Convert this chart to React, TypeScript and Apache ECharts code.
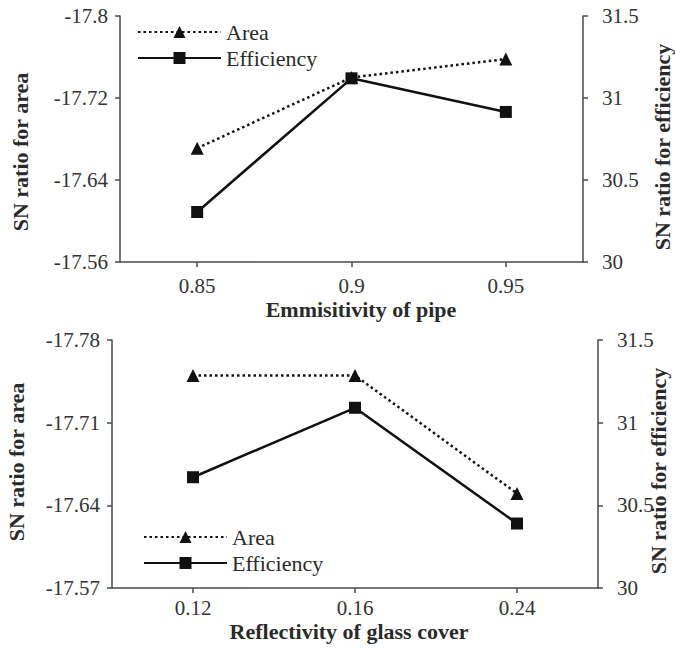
import React, { useEffect, useRef } from "react";
import * as echarts from "echarts";

const topCategories = ["0.85", "0.9", "0.95"];
const topArea = [-17.671, -17.74, -17.758];
const topEfficiency = [30.305, 31.12, 30.915];
const topAreaTicks = [-17.8, -17.72, -17.64, -17.56];

const bottomCategories = ["0.12", "0.16", "0.24"];
const bottomArea = [-17.75, -17.75, -17.65];
const bottomEfficiency = [30.67, 31.09, 30.39];
const bottomAreaTicks = [-17.78, -17.71, -17.64, -17.57];

const FONT = "'Liberation Serif', 'Times New Roman', 'DejaVu Serif', serif";
const AXIS_COLOR = "#4a4a4a";
const TEXT_COLOR = "#2a2a2a";
const LINE_COLOR = "#111";

export default function App() {
  const ref = useRef<HTMLDivElement>(null);
  useEffect(() => {
    if (!ref.current) return;
    const chart = echarts.init(ref.current, undefined, { renderer: "svg" });
    const axisLine = { show: true, lineStyle: { color: AXIS_COLOR, width: 1.5 } };
    const axisTick = { show: true, length: 5, lineStyle: { color: AXIS_COLOR, width: 1.5 } };
    const labelStyle = { fontFamily: FONT, fontSize: 21, color: "#333" };

    const xAxis = (idx: number, cats: string[], margin: number) => ({
      type: "category",
      gridIndex: idx,
      data: cats,
      boundaryGap: true,
      axisLine,
      axisTick: { ...axisTick, alignWithLabel: true },
      axisLabel: { ...labelStyle, lineHeight: 18, margin },
      splitLine: { show: false },
    });
    const leftAxis = (idx: number, ticks: number[]) => ({
      type: "value",
      gridIndex: idx,
      position: "left",
      inverse: true,
      min: ticks[0],
      max: ticks[ticks.length - 1],
      axisLine,
      axisTick: { ...axisTick, customValues: ticks },
      axisLabel: { ...labelStyle, margin: 12, customValues: ticks, formatter: (v: number) => String(v) },
      splitLine: { show: false },
    });
    const rightAxis = (idx: number) => ({
      type: "value",
      gridIndex: idx,
      position: "right",
      min: 30,
      max: 31.5,
      interval: 0.5,
      axisLine,
      axisTick,
      axisLabel: { ...labelStyle, margin: 19 },
      splitLine: { show: false },
    });
    const areaSeries = (xi: number, yi: number, data: number[]) => ({
      name: "Area",
      type: "line",
      xAxisIndex: xi,
      yAxisIndex: yi,
      data,
      symbol: "triangle",
      symbolSize: 13,
      lineStyle: { color: LINE_COLOR, width: 2.5, type: [2.5, 3] },
      itemStyle: { color: LINE_COLOR },
    });
    const effSeries = (xi: number, yi: number, data: number[]) => ({
      name: "Efficiency",
      type: "line",
      xAxisIndex: xi,
      yAxisIndex: yi,
      data,
      symbol: "rect",
      symbolSize: 12,
      lineStyle: { color: LINE_COLOR, width: 2.5 },
      itemStyle: { color: LINE_COLOR },
    });
    const legend = (left: number, top: number) => ({
      orient: "vertical",
      left,
      top,
      padding: 0,
      itemGap: 4,
      itemWidth: 83,
      itemHeight: 15,
      textStyle: { fontFamily: FONT, fontSize: 22, color: TEXT_COLOR, lineHeight: 22 },
      data: ["Area", "Efficiency"],
      selectedMode: false,
    });
    const title = (text: string, x: number, y: number, rotate: boolean) => ({
      type: "text",
      x,
      y,
      rotation: rotate ? Math.PI / 2 : 0,
      style: {
        text,
        fontFamily: FONT,
        fontSize: 22,
        lineHeight: 20,
        fontWeight: "bold",
        fill: TEXT_COLOR,
        align: "center",
        verticalAlign: "middle",
      },
    });

    chart.setOption({
      animation: false,
      backgroundColor: "#fff",
      grid: [
        { left: 120, right: 92, top: 16, height: 246, containLabel: false },
        { left: 112, right: 77, top: 340, height: 248, containLabel: false },
      ],
      xAxis: [xAxis(0, topCategories, 15), xAxis(1, bottomCategories, 11)],
      yAxis: [leftAxis(0, topAreaTicks), rightAxis(0), leftAxis(1, bottomAreaTicks), rightAxis(1)],
      legend: [legend(137, 21), legend(143, 526)],
      series: [
        areaSeries(0, 0, topArea),
        effSeries(0, 1, topEfficiency),
        areaSeries(1, 2, bottomArea),
        effSeries(1, 3, bottomEfficiency),
      ],
      graphic: [
        title("SN ratio for area", 20, 152, true),
        title("SN ratio for efficiency", 662, 147, true),
        title("Emmisitivity of pipe", 361, 309, false),
        title("SN ratio for area", 16, 462, true),
        title("SN ratio for efficiency", 658, 471, true),
        title("Reflectivity of glass cover", 349, 631, false),
      ],
    });
    return () => chart.dispose();
  }, []);
  return (
    <div
      ref={ref}
      style={{ position: "absolute", left: 0, top: 0, width: 675, height: 649 }}
    />
  );
}
